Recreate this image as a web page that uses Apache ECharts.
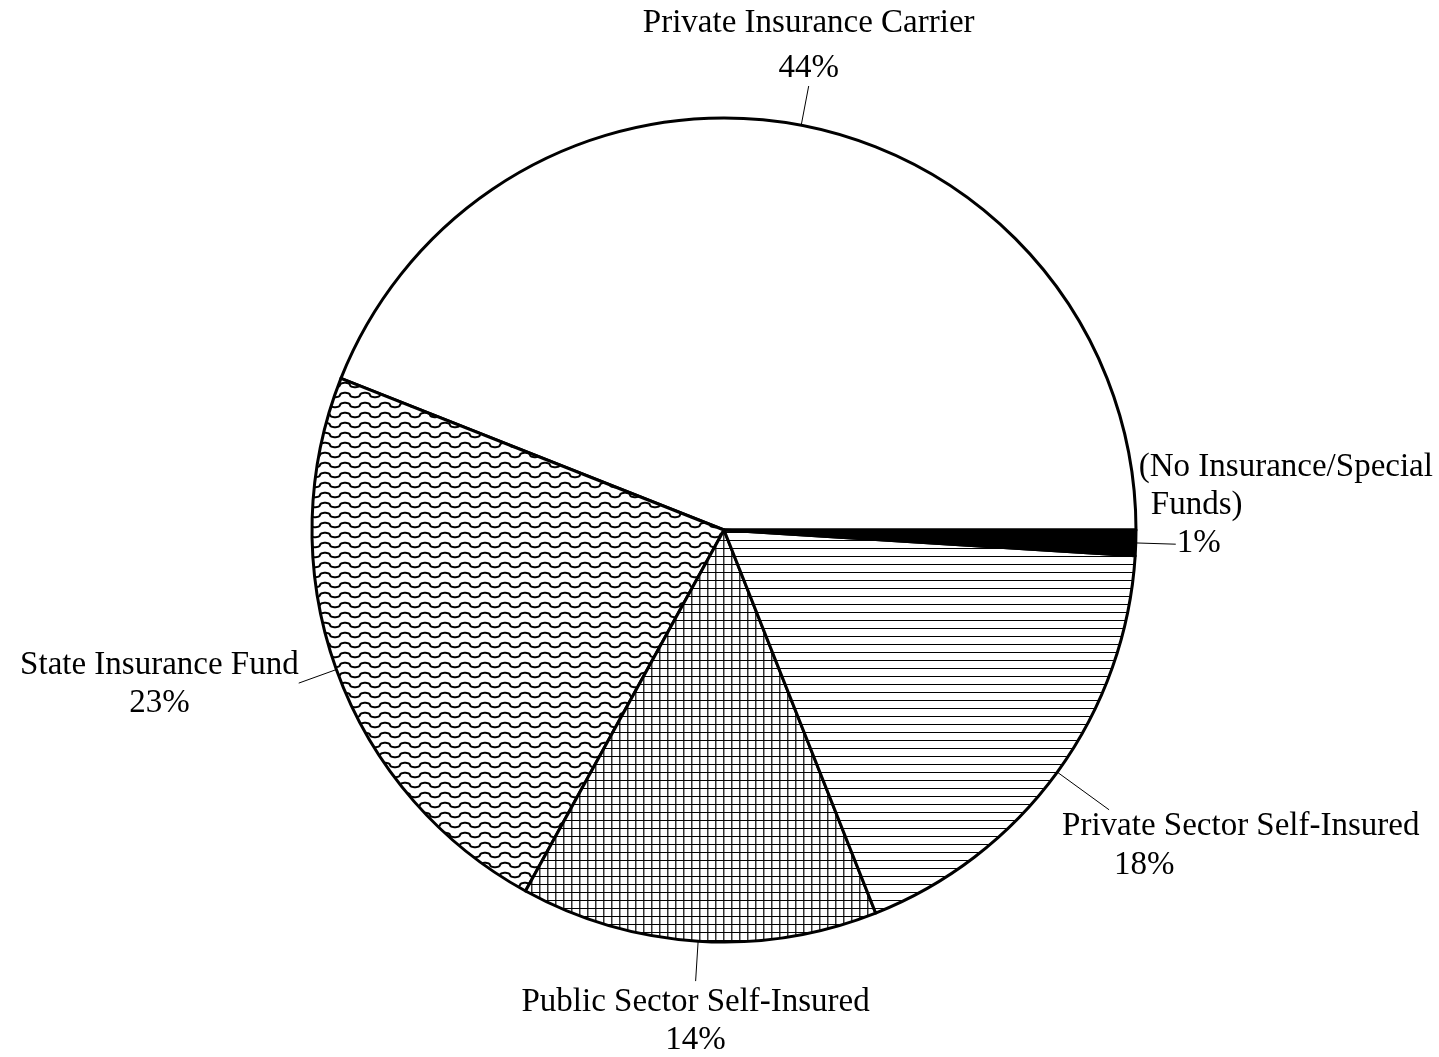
<!DOCTYPE html>
<html>
<head>
<meta charset="utf-8">
<script src="https://cdn.jsdelivr.net/npm/echarts@6/dist/echarts.min.js"></script>
<style>
html,body{margin:0;padding:0;background:#fff;}
#chart{width:1439px;height:1057px;}
</style>
</head>
<body>
<div id="chart"></div>
<script>
// ---- data ----
const categories = [
  'Private Insurance Carrier',
  'State Insurance Fund',
  'Public Sector Self-Insured',
  'Private Sector Self-Insured',
  '(No Insurance/Special\nFunds)'
];
const values = [44, 23, 14, 18, 1];

// ---- pattern fills ----
function makeTile(w, h, draw) {
  const c = document.createElement('canvas');
  c.width = w; c.height = h;
  const ctx = c.getContext('2d');
  ctx.fillStyle = '#fff';
  ctx.fillRect(0, 0, w, h);
  draw(ctx, w, h);
  return c;
}
const waveTile = makeTile(20, 10, function (ctx, w, h) {
  ctx.strokeStyle = '#000';
  ctx.lineWidth = 2;
  ctx.beginPath();
  for (let x = -2; x <= w + 2; x += 0.5) {
    const s = Math.sin(2 * Math.PI * x / w);
    const y = 5 - 2.2 * Math.sign(s) * Math.pow(Math.abs(s), 0.45);
    if (x === -2) ctx.moveTo(x, y); else ctx.lineTo(x, y);
  }
  ctx.stroke();
});
const gridTile = makeTile(8, 8, function (ctx, w, h) {
  ctx.fillStyle = '#333';
  ctx.fillRect(3, 0, 1, h);
  ctx.fillStyle = '#999';
  ctx.fillRect(4, 0, 1, h);
  ctx.fillStyle = '#000';
  ctx.fillRect(0, 4, w, 1);
});
const hlineTile = makeTile(8, 8, function (ctx, w, h) {
  ctx.fillStyle = '#000';
  ctx.fillRect(0, 4, w, 1);
});
const fills = [
  '#ffffff',
  { image: waveTile, repeat: 'repeat' },
  { image: gridTile, repeat: 'repeat' },
  { image: hlineTile, repeat: 'repeat' },
  '#000000'
];

// ---- label styling per slice ----
const labelStyles = [
  { len: 40, dist: 0,   align: 'center', vAlign: 'bottom', lh: [55, 35],    tokAlign: 'center', pads: [0, 0] },
  { len: 40, dist: 0,   align: 'right',  vAlign: 'middle', lh: [41, 35],    tokAlign: 'center', pads: [0, 0] },
  { len: 40, dist: 0,   align: 'center', vAlign: 'top',    lh: [42, 34],    tokAlign: 'center', pads: [0, 0] },
  { len: 64, dist: -47, align: 'left',   vAlign: 'top',    lh: [33, 45],    tokAlign: 'left',   pads: [0, 52] },
  { len: 40, dist: -37, align: 'left',   vAlign: 'bottom', lh: [2, 74, 2],  tokAlign: 'left',   pads: [0, 12, 38] }
];
const FONT = 'Liberation Serif';
const FS = 33;

const seriesData = categories.map(function (name, i) {
  const st = labelStyles[i];
  const rich = {};
  st.lh.forEach(function (lh, k) {
    rich['t' + k] = {
      fontFamily: FONT, fontSize: FS, color: '#000',
      lineHeight: lh, align: st.tokAlign,
      padding: [0, 0, 0, st.pads[k] || 0]
    };
  });
  return {
    name: name,
    value: values[i],
    itemStyle: { color: fills[i] },
    label: { distanceToLabelLine: st.dist, rich: rich },
    labelLine: { length: st.len, length2: 0 }
  };
});

const chart = echarts.init(document.getElementById('chart'), null, { renderer: 'canvas' });
chart.setOption({
  animation: false,
  backgroundColor: '#ffffff',
  series: [{
    type: 'pie',
    center: [724, 530],
    radius: 412,
    startAngle: 0,
    clockwise: false,
    avoidLabelOverlap: false,
    silent: true,
    emphasis: { disabled: true },
    itemStyle: { borderColor: '#000', borderWidth: 3, borderJoin: 'round' },
    label: {
      show: true,
      position: 'outside',
      alignTo: 'none',
      fontFamily: FONT,
      fontSize: FS,
      color: '#000',
      formatter: function (p) {
        const lines = p.name.split('\n');
        lines.push(Math.round(p.percent) + '%');
        return lines.map(function (t, k) { return '{t' + k + '|' + t + '}'; }).join('\n');
      }
    },
    labelLine: {
      show: true,
      smooth: false,
      lineStyle: { color: '#000', width: 1 }
    },
    labelLayout: function (params) {
      const st = labelStyles[params.dataIndex];
      return { align: st.align, verticalAlign: st.vAlign };
    },
    data: seriesData
  }]
});
</script>
</body>
</html>
